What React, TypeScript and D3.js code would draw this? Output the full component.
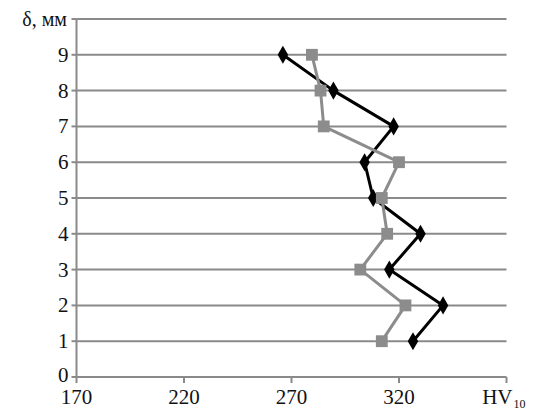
import React from "react";
import * as d3 from "d3";

const depths = [9, 8, 7, 6, 5, 4, 3, 2, 1];
const seriesBlack = [266, 289.5, 317.5, 304, 308, 330, 315.5, 340.5, 326.5];
const seriesGray = [279.5, 283.5, 285, 320, 312, 314.5, 302, 323, 312];
const xTicks = [170, 220, 270, 320];
const yTicks = [0, 1, 2, 3, 4, 5, 6, 7, 8, 9];

const W = 533, H = 412;
const L = 76.5, R = 506.5, T = 19, B = 377;
const FONT = "'Liberation Serif', 'Times New Roman', serif";

export default function App() {
  const x = d3.scaleLinear().domain([170, 370]).range([L, R]);
  const y = d3.scaleLinear().domain([0, 10]).range([B, T]);
  const mk = (vals: number[]) => vals.map((v, i) => [v, depths[i]] as [number, number]);
  const lineGen = d3.line<[number, number]>().x((d) => x(d[0])).y((d) => y(d[1]));
  const gridColor = "#8a8a8a";
  const grayColor = "#8c8c8c";
  const diamond = d3.symbol().type(d3.symbolDiamond).size(95)();
  const square = d3.symbol().type(d3.symbolSquare).size(140)();
  return (
    <svg width={W} height={H} fontFamily={FONT} style={{ position: "absolute", left: 0, top: 0, background: "#fff" }}>
      {d3.range(1, 11).map((v) => (
        <line key={"g" + v} x1={L} x2={R} y1={y(v)} y2={y(v)} stroke={gridColor} strokeWidth={2} />
      ))}
      <line x1={L} x2={L} y1={T} y2={B} stroke={gridColor} strokeWidth={2} />
      <line x1={L} x2={R} y1={B} y2={B} stroke={gridColor} strokeWidth={2} />
      {d3.range(0, 11).map((v) => (
        <line key={"yt" + v} x1={L - 5} x2={L} y1={y(v)} y2={y(v)} stroke={gridColor} strokeWidth={2} />
      ))}
      {[170, 220, 270, 320, 370].map((v) => (
        <line key={"xt" + v} x1={x(v)} x2={x(v)} y1={B} y2={B + 6} stroke={gridColor} strokeWidth={2} />
      ))}
      {yTicks.map((v) => (
        <text key={"yl" + v} x={L - 8} y={v === 0 ? y(v) - 2 : y(v)} dy="0.33em" textAnchor="end" fontSize={21} fill="#111">
          {v}
        </text>
      ))}
      {xTicks.map((v) => (
        <text key={"xl" + v} x={x(v)} y={404} textAnchor="middle" fontSize={21} fill="#111">
          {v}
        </text>
      ))}
      <text x={x(370) + 6} y={404} textAnchor="end" fontSize={21} fill="#111">HV</text>
      <text x={x(370) + 7} y={408} fontSize={12} fill="#111">10</text>
      <text x={67} y={T} dy="0.33em" textAnchor="end" fontSize={20} fill="#111">δ, мм</text>
      <path d={lineGen(mk(seriesBlack)) || ""} fill="none" stroke="#000" strokeWidth={3} strokeLinejoin="round" />
      {seriesBlack.map((v, i) => (
        <path key={"b" + i} d={diamond || ""} transform={`translate(${x(v)},${y(depths[i])})`} fill="#000" />
      ))}
      <path d={lineGen(mk(seriesGray)) || ""} fill="none" stroke={grayColor} strokeWidth={3} strokeLinejoin="round" />
      {seriesGray.map((v, i) => (
        <path key={"s" + i} d={square || ""} transform={`translate(${x(v)},${y(depths[i])})`} fill={grayColor} />
      ))}
    </svg>
  );
}
